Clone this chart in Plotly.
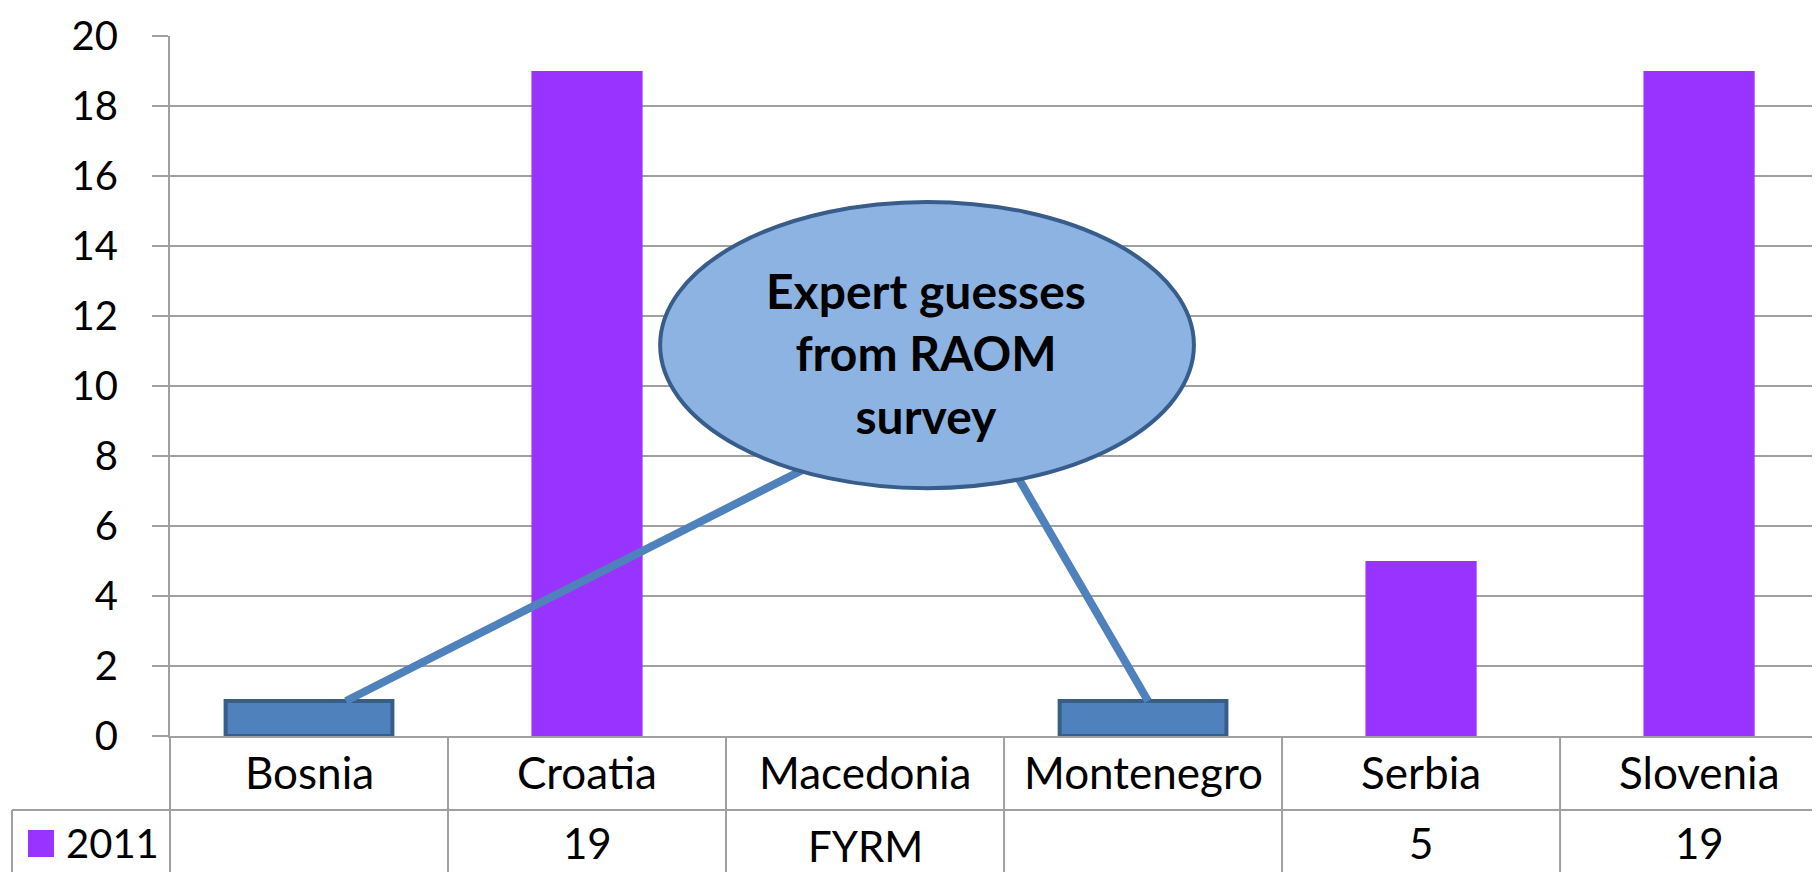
import plotly.graph_objects as go

categories = ["Bosnia", "Croatia", "Macedonia", "Montenegro", "Serbia", "Slovenia"]
values_2011 = [None, 19, None, None, 5, 19]
expert_guesses = [1, None, None, 1, None, None]
table_row = ["", "19", "FYRM", "", "5", "19"]
series_name = "2011"
callout_text = "Expert guesses<br>from RAOM<br>survey"

PURPLE = "#9933FF"
BOX_FILL = "#4F81BD"
BOX_LINE = "#385D8A"
GRID = "#A0A0A0"
FONT = "Lato, Carlito, sans-serif"

# the page body has an 8px margin, so the figure is shifted by that much
OFF = 8
W, H = 1820 - OFF, 872 - OFF
L, T, B = 170 - OFF, 36 - OFF, 136
XR = [-0.5, 5.435]


def px_to_paper_x(px):
    return (px - OFF - L) / (W - L)


def px_to_paper_y(py):
    return (H - B - (py - OFF)) / (H - B - T)


def cat_to_paper(c):
    return (c - XR[0]) / (XR[1] - XR[0])


xs = list(range(len(categories)))

fig = go.Figure()
fig.add_trace(go.Bar(x=xs, y=values_2011, width=0.4, name=series_name,
                     marker=dict(color=PURPLE, line_width=0)))
fig.add_trace(go.Bar(x=xs, y=expert_guesses, width=0.6, name="guess",
                     marker=dict(color=BOX_FILL, line=dict(color=BOX_LINE, width=4))))

shapes = []
# callout lines then ellipse
for x0, y0, x1, y1 in [(0.133, 1.0, 1.85, 7.9), (3.018, 1.0, 2.52, 7.8)]:
    shapes.append(dict(type="line", xref="x", yref="y", x0=x0, y0=y0, x1=x1, y1=y1,
                       line=dict(color=BOX_FILL, width=8)))
shapes.append(dict(type="circle", xref="x", yref="y", x0=1.263, x1=3.183, y0=7.08, y1=15.26,
                   fillcolor="#8DB3E2", line=dict(color=BOX_LINE, width=4)))

# data table lines
y_bot = px_to_paper_y(872)
y_row = px_to_paper_y(810)
shapes.append(dict(type="line", xref="paper", yref="paper", x0=0, x1=0, y0=0, y1=y_bot,
                   line=dict(color=GRID, width=2)))
for i in range(len(categories) - 1):
    xp = cat_to_paper(i + 0.5)
    shapes.append(dict(type="line", xref="paper", yref="paper", x0=xp, x1=xp, y0=0, y1=y_bot,
                       line=dict(color=GRID, width=2)))
xl = px_to_paper_x(12)
shapes.append(dict(type="line", xref="paper", yref="paper", x0=xl, x1=1, y0=y_row, y1=y_row,
                   line=dict(color=GRID, width=2)))
shapes.append(dict(type="line", xref="paper", yref="paper", x0=xl, x1=xl, y0=y_row, y1=y_bot,
                   line=dict(color=GRID, width=2)))
# legend key
shapes.append(dict(type="rect", xref="paper", yref="paper",
                   x0=px_to_paper_x(28), x1=px_to_paper_x(54),
                   y0=px_to_paper_y(857), y1=px_to_paper_y(830),
                   fillcolor=PURPLE, line_width=0))

annotations = []
for i, c in enumerate(categories):
    annotations.append(dict(x=cat_to_paper(i), y=px_to_paper_y(772), xref="paper", yref="paper",
                            xanchor="center", yanchor="middle",
                            text=c, showarrow=False, font=dict(size=44, color="black")))
for i, t in enumerate(table_row):
    if not t:
        continue
    py = 846 if not t.isdigit() else 843
    annotations.append(dict(x=cat_to_paper(i), y=px_to_paper_y(py), xref="paper", yref="paper",
                            xanchor="center", yanchor="middle",
                            text=t, showarrow=False, font=dict(size=42, color="black")))
annotations.append(dict(x=px_to_paper_x(64), y=px_to_paper_y(843), xref="paper", yref="paper",
                        text=series_name, xanchor="left", yanchor="middle", showarrow=False,
                        font=dict(size=40, color="black")))
annotations.append(dict(x=2.22, y=10.94, xref="x", yref="y", text="<b>" + callout_text + "</b>",
                        xanchor="center", yanchor="middle",
                        showarrow=False, font=dict(size=48, color="black")))

fig.update_layout(
    width=W, height=H,
    margin=dict(l=L, r=0, t=T, b=B, pad=0),
    paper_bgcolor="white", plot_bgcolor="white",
    font=dict(family=FONT, color="black", size=40),
    barmode="overlay",
    showlegend=False,
    shapes=shapes,
    annotations=annotations,
    xaxis=dict(range=XR, showticklabels=False, showgrid=False, zeroline=False,
               showline=True, linecolor=GRID, linewidth=2, fixedrange=True),
    yaxis=dict(range=[0, 20], dtick=2, tick0=0, showgrid=True, gridcolor=GRID, gridwidth=2,
               zeroline=False, showline=True, linecolor=GRID, linewidth=2,
               ticks="outside", ticklen=16, tickwidth=2, tickcolor=GRID,
               ticklabelstandoff=26, tickfont=dict(size=40, color="black")),
)

fig.write_html("out.html")
